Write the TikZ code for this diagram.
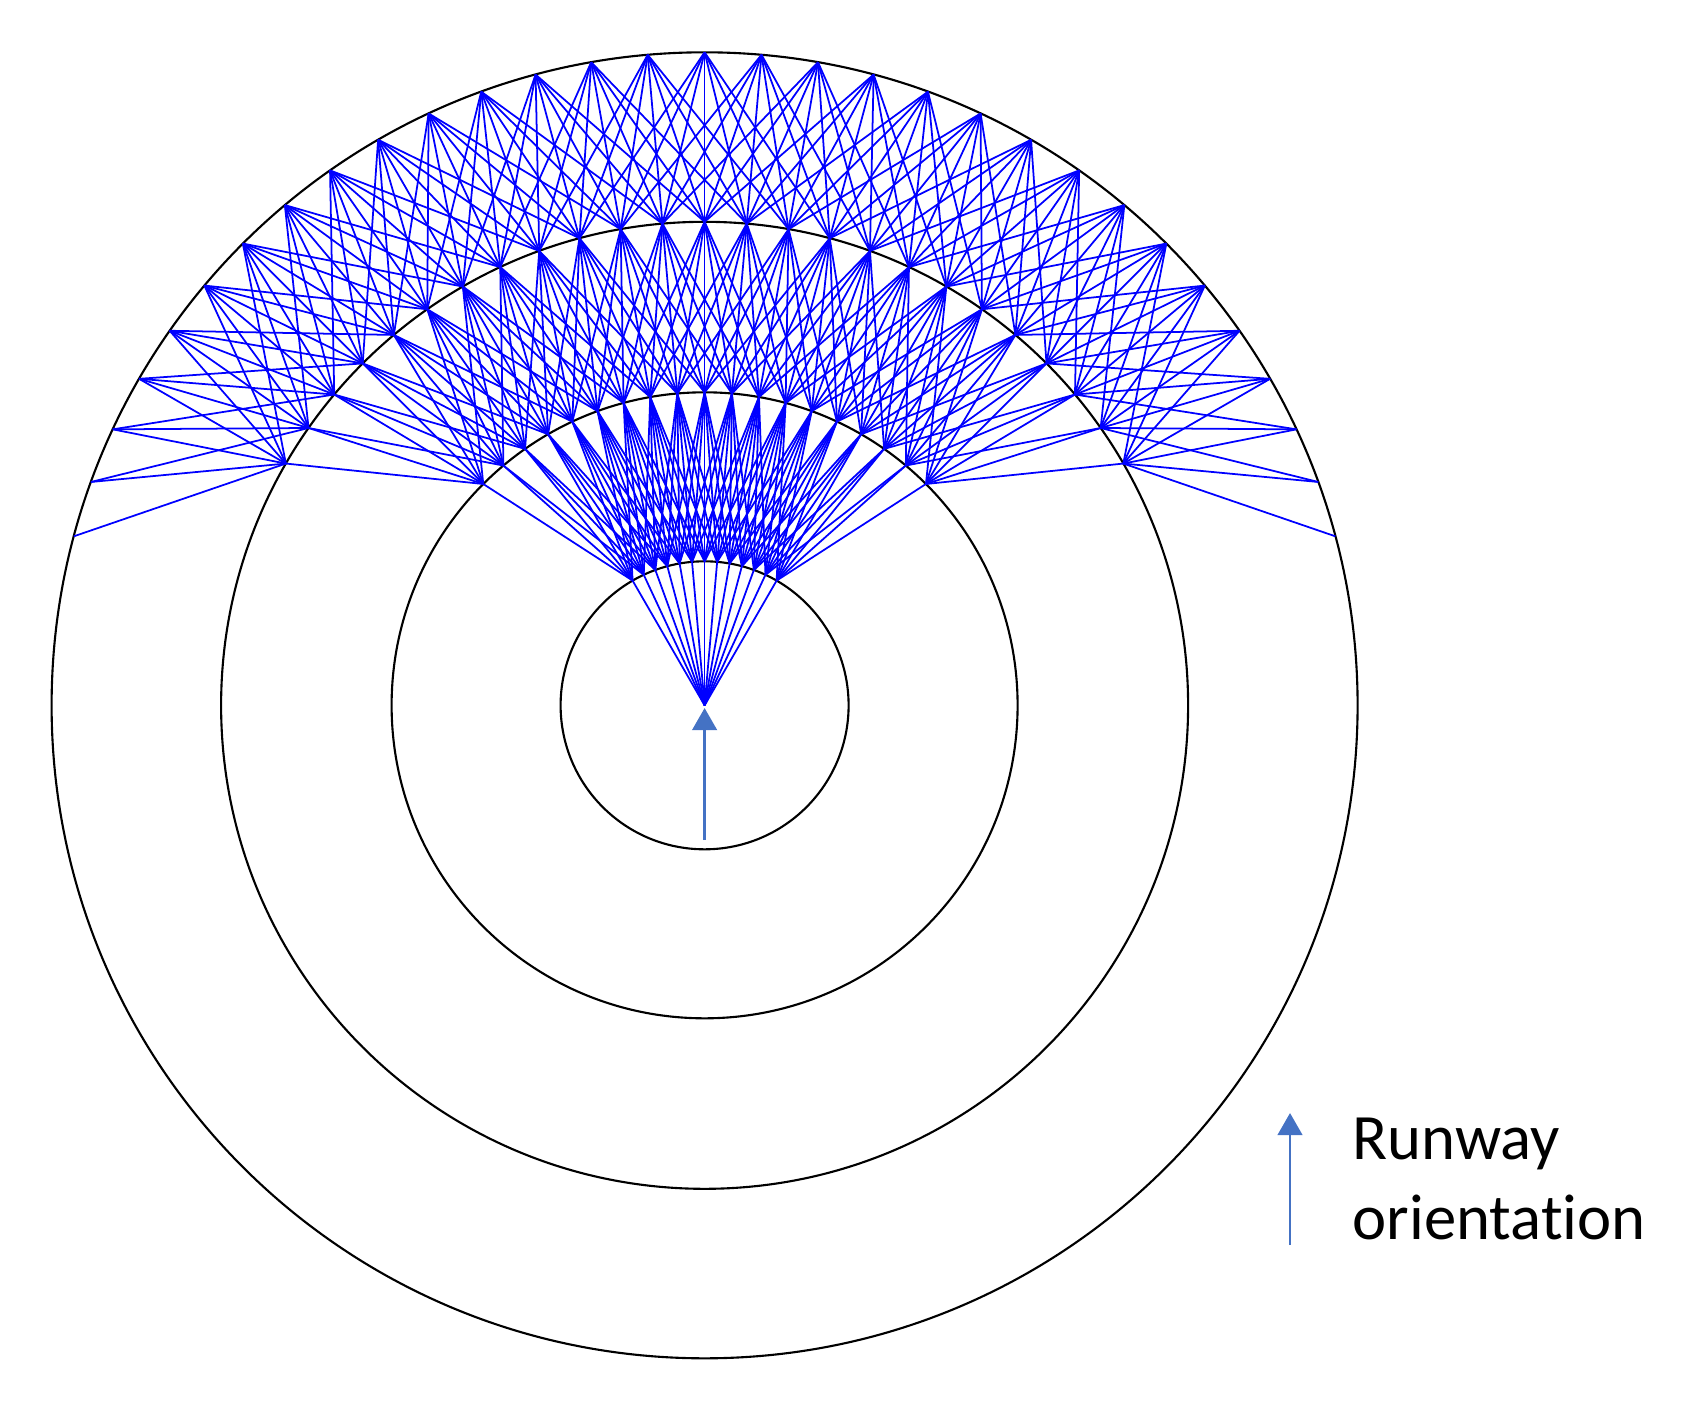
\documentclass[tikz,border=0pt]{standalone}
\usepackage{fontspec}
\setmainfont{Carlito}[Ligatures={NoCommon}]
\usetikzlibrary{arrows.meta}
\definecolor{routeblue}{RGB}{0,0,255}
\definecolor{rwyblue}{RGB}{68,114,196}
\tikzset{
  route/.style={draw=routeblue, line width=0.5pt},
  ringline/.style={draw=black, line width=0.6pt},
  rwyarrow/.style={draw=rwyblue, line width=0.8pt, -{Triangle[width=7pt,length=6.3pt]}},
  legendtext/.style={font=\fontsize{18.4pt}{22pt}\selectfont, anchor=base west, inner sep=0pt}
}
\begin{document}
\begin{tikzpicture}[x=0.01cm,y=-0.01cm]
\useasboundingbox (0,0) rectangle (1700,1405);
\def\cx{704.6}
\def\cy{705.3}
\coordinate (O) at (\cx,\cy);
% rings
\foreach \r in {144,313,483.5,653} {
  \draw[ringline] (O) circle[radius=\r];
}
% route points on the rings (index j -> angle 5j-75 from runway axis)
\foreach \k/\r/\lo/\hi in {1/144/9/21, 2/313/6/24, 3/483.5/3/27, 4/653/0/30} {
  \foreach \j in {\lo,...,\hi} {
    \coordinate (p\k-\j) at ({\cx+\r*sin(5*\j-75)},{\cy-\r*cos(5*\j-75)});
  }
}
% from the runway end to the first ring
\foreach \j in {9,...,21} {
  \draw[route] (O) -- (p1-\j);
}
% between successive rings, turns of up to 15 degrees
\foreach \k/\n/\lo/\hi in {1/2/9/21, 2/3/6/24, 3/4/3/27} {
  \foreach \j in {\lo,...,\hi} {
    \foreach \d in {-3,...,3} {
      \pgfmathtruncatemacro\t{\j+\d}
      \draw[route] (p\k-\j) -- (p\n-\t);
    }
  }
}
% runway orientation arrow at the centre
\coordinate (c0) at (704.6,840);
\coordinate (c1) at (704.6,708);
\draw[rwyarrow] (c0) -- (c1);
% legend
\coordinate (l0) at (1290,1245);
\coordinate (l1) at (1290,1113);
\draw[rwyarrow] (l0) -- (l1);
\node[legendtext] (lg1) at (1352,1159) {Runway};
\node[legendtext] (lg2) at (1352,1239) {orientation};
\end{tikzpicture}
\end{document}
